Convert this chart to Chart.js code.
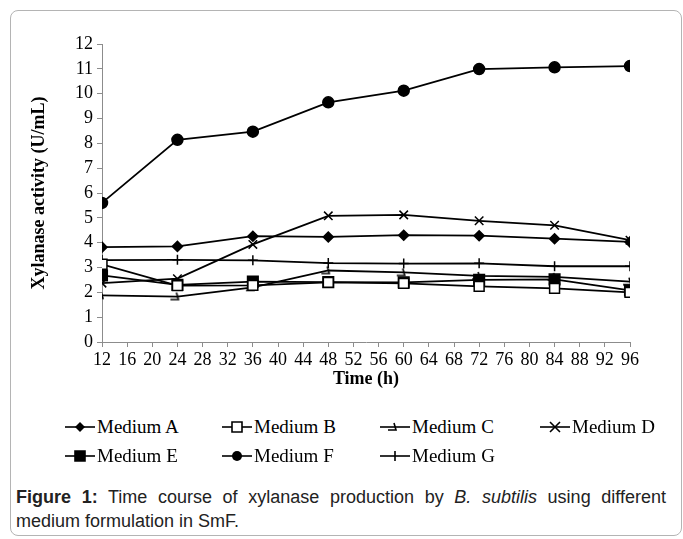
<!DOCTYPE html>
<html>
<head>
<meta charset="utf-8">
<script src="https://cdn.jsdelivr.net/npm/chart.js@4.4.1/dist/chart.umd.min.js"></script>
<style>
  body { margin: 0; background: #fff; }
  #wrap { position: relative; width: 683px; height: 539px; overflow: hidden; }
  #frame { position: absolute; left: 10px; top: 10px; width: 670px; height: 524px;
           border: 1px solid #b4b4b4; border-radius: 8px; }
  #box { position: absolute; left: 0; top: 0; width: 683px; height: 390px; }
  #legend { position: absolute; left: 65px; top: 416px; width: 620px;
            display: grid; grid-template-columns: 157px 158px 160px 140px; row-gap: 7px;
            font: 19px "Liberation Serif", "Times New Roman", serif; color: #000; }
  .item { display: flex; align-items: center; height: 22px; white-space: nowrap; }
  .item canvas { margin-right: 2px; }
  #caption { position: absolute; left: 16px; top: 485px; width: 650px;
             font: 18px "Liberation Sans", Arial, sans-serif; color: #222;
             line-height: 24px; text-align: justify; }
</style>
</head>
<body>
<div id="wrap">
  <div id="frame"></div>
  <div id="box"><canvas id="myChart"></canvas></div>
  <div id="legend"></div>
  <div id="caption"><b>Figure 1:</b> Time course of xylanase production by <i>B. subtilis</i> using different medium formulation in SmF.</div>
</div>
<script>
var times = [12, 24, 36, 48, 60, 72, 84, 96];
var mediumA = [3.82, 3.85, 4.26, 4.23, 4.30, 4.28, 4.16, 4.03];
var mediumB = [3.13, 2.27, 2.28, 2.40, 2.36, 2.24, 2.16, 2.00];
var mediumC = [1.88, 1.83, 2.20, 2.88, 2.80, 2.66, 2.62, 2.43];
var mediumD = [2.37, 2.55, 3.93, 5.08, 5.12, 4.88, 4.70, 4.10];
var mediumE = [2.68, 2.30, 2.43, 2.41, 2.40, 2.50, 2.52, 2.08];
var mediumF = [5.60, 8.14, 8.47, 9.65, 10.12, 10.99, 11.06, 11.11];
var mediumG = [3.30, 3.31, 3.29, 3.18, 3.16, 3.17, 3.05, 3.05];
var names = ["Medium A", "Medium B", "Medium C", "Medium D", "Medium E", "Medium F", "Medium G"];
var xTicks = [12, 16, 20, 24, 28, 32, 36, 40, 44, 48, 52, 56, 60, 64, 68, 72, 76, 80, 84, 88, 92, 96];
var yTicks = [0, 1, 2, 3, 4, 5, 6, 7, 8, 9, 10, 11, 12];

// odd Excel marker for Medium C (a broken triangle)
function stepMarker(){
    var c = document.createElement("canvas");
    c.width = 16; c.height = 16;
    var g = c.getContext("2d");
    g.strokeStyle = "#000";
    g.lineWidth = 1.6;
    g.beginPath();
    g.moveTo(1, 11); g.lineTo(9, 11);
    g.lineTo(7, 4);
    g.stroke();
    return c;
}
var cMarker = stepMarker();

var styles = [
    {pointStyle: "rectRot", radius: 5, bg: "#000"},
    {pointStyle: "rect", radius: 7, bg: "#fff"},
    {pointStyle: cMarker, radius: 6, bg: "#000"},
    {pointStyle: "crossRot", radius: 6, bg: "#000"},
    {pointStyle: "rect", radius: 7.5, bg: "#000"},
    {pointStyle: "circle", radius: 5.5, bg: "#000"},
    {pointStyle: "cross", radius: 5, bg: "#000"}
];
var series = [mediumA, mediumB, mediumC, mediumD, mediumE, mediumF, mediumG];

function toPoints(vals){
    var pts = [];
    for (var i = 0; i < times.length; i++) {
        pts.push({x: times[i], y: vals[i]});
    }
    return pts;
}

var datasets = [];
for (var i = 0; i < series.length; i++) {
    datasets.push({
        label: names[i],
        data: toPoints(series[i]),
        borderColor: "#000",
        borderWidth: 1.8,
        pointStyle: styles[i].pointStyle,
        pointRadius: styles[i].radius,
        pointBackgroundColor: styles[i].bg,
        pointBorderColor: "#000",
        pointBorderWidth: 1.5,
        tension: 0
    });
}

var serif = "'Liberation Serif', 'Times New Roman', serif";
var axisGray = "#8c8c8c";
var ctx = document.getElementById("myChart").getContext("2d");
var chart = new Chart(ctx, {
    type: "line",
    data: {datasets: datasets},
    options: {
        responsive: true,
        maintainAspectRatio: false,
        animation: false,
        layout: {padding: {left: 29, top: 44, right: 53, bottom: 0}},
        plugins: {legend: {display: false}, tooltip: {enabled: false}},
        scales: {
            x: {
                type: "linear",
                min: 12, max: 96,
                afterBuildTicks: function(scale){
                    scale.ticks = xTicks.map(function(v){ return {value: v}; });
                },
                afterFit: function(scale){ scale.height = 48; },
                border: {color: axisGray, width: 1},
                grid: {drawOnChartArea: false, drawTicks: true, tickLength: 5, color: axisGray},
                ticks: {autoSkip: false, maxRotation: 0, padding: 2, color: "#000",
                        font: {family: serif, size: 18}},
                title: {display: true, text: "Time (h)", color: "#000", padding: {top: 0, bottom: 0},
                        font: {family: serif, size: 18, weight: "bold"}}
            },
            y: {
                min: 0, max: 12,
                afterBuildTicks: function(scale){
                    scale.ticks = yTicks.map(function(v){ return {value: v}; });
                },
                afterFit: function(scale){ scale.width = 73; },
                border: {color: axisGray, width: 1},
                grid: {drawOnChartArea: false, drawTicks: true, tickLength: 5, color: axisGray},
                ticks: {padding: 4, color: "#000",
                        font: {family: serif, size: 18}},
                title: {display: true, text: "Xylanase activity (U/mL)", color: "#000", padding: {top: 0, bottom: 0},
                        font: {family: serif, size: 18, weight: "bold"}}
            }
        }
    }
});

// legend: line with marker in the middle, like the Excel original
function drawGlyph(g, k, x, y){
    var s = styles[k];
    g.strokeStyle = "#000";
    g.fillStyle = s.bg;
    g.lineWidth = 1.6;
    g.beginPath(); g.moveTo(0, y); g.lineTo(30, y); g.stroke();
    g.beginPath();
    if (k === 0) {
        g.moveTo(x, y - 5); g.lineTo(x + 5, y); g.lineTo(x, y + 5); g.lineTo(x - 5, y); g.closePath();
        g.fill();
    } else if (k === 1 || k === 4) {
        g.rect(x - 5, y - 5, 10, 10);
        g.fill(); g.stroke();
    } else if (k === 2) {
        g.drawImage(cMarker, x - 8, y - 8);
    } else if (k === 3) {
        g.moveTo(x - 5, y - 5); g.lineTo(x + 5, y + 5);
        g.moveTo(x + 5, y - 5); g.lineTo(x - 5, y + 5);
        g.stroke();
    } else if (k === 5) {
        g.arc(x, y, 5, 0, Math.PI * 2);
        g.fill();
    } else {
        g.moveTo(x, y - 5); g.lineTo(x, y + 5);
        g.stroke();
    }
}
var legendBox = document.getElementById("legend");
for (var k = 0; k < names.length; k++) {
    var item = document.createElement("div");
    item.className = "item";
    var cv = document.createElement("canvas");
    cv.width = 30; cv.height = 16;
    drawGlyph(cv.getContext("2d"), k, 15, 8);
    item.appendChild(cv);
    var sp = document.createElement("span");
    sp.textContent = names[k];
    item.appendChild(sp);
    legendBox.appendChild(item);
}
</script>
</body>
</html>
